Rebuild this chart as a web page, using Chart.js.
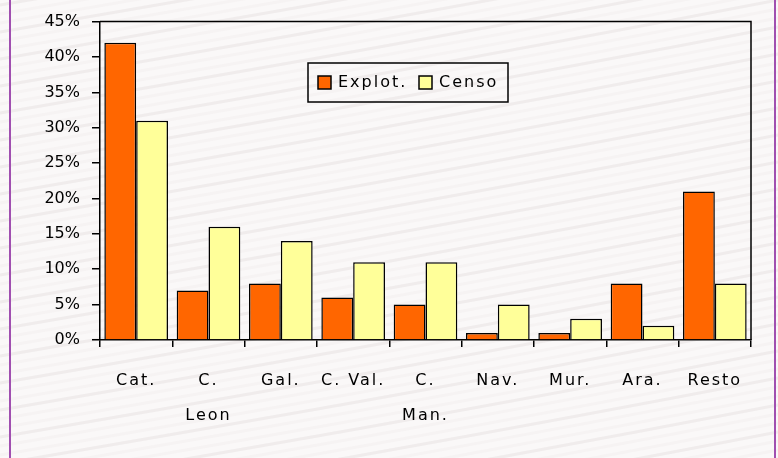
<!DOCTYPE html>
<html>
<head>
<meta charset="utf-8">
<script src="https://cdn.jsdelivr.net/npm/chart.js@4/dist/chart.umd.min.js"></script>
<style>
  html, body { margin: 0; padding: 0; background: #fff; }
  #wrap { width: 778px; height: 458px; }
</style>
</head>
<body>
<div id="wrap"><canvas id="regionChart" width="778" height="458"></canvas></div>
<script>
const regions = [['Cat.'], ['C.', 'Leon'], ['Gal.'], ['C. Val.'], ['C.', 'Man.'], ['Nav.'], ['Mur.'], ['Ara.'], ['Resto']];
const explot = [42, 7, 8, 6, 5, 1, 1, 8, 21];
const censo = [31, 16, 14, 11, 11, 5, 3, 2, 8];
const yTicks = [0, 5, 10, 15, 20, 25, 30, 35, 40, 45];

const FONT = 'DejaVu Sans, Verdana, sans-serif';

// striped paper background + purple frame
const backdrop = {
    id: 'backdrop',
    beforeDraw(chart) {
        const c = chart.ctx;
        const w = chart.width, h = chart.height;
        c.save();
        c.fillStyle = '#faf8f8';
        c.fillRect(0, 0, w, h);
        c.lineWidth = 3;
        for (let i = -40; i < 80; i++) {
            const y0 = i * 9;
            c.strokeStyle = i % 3 === 0 ? 'rgba(200,190,190,0.2)' : 'rgba(215,205,205,0.1)';
            c.beginPath();
            c.moveTo(0, y0 + 140);
            c.bezierCurveTo(w * 0.3, y0 + 100, w * 0.6, y0 + 60, w, y0);
            c.stroke();
        }
        c.strokeStyle = '#a04fb0';
        c.lineWidth = 2;
        c.strokeRect(10, -4, 765, h + 8);
        c.restore();

        // spaced-out category labels, like the original
        const sx = chart.scales.x;
        if (sx && !sx._spaced) {
            const orig = sx.drawLabels;
            sx.drawLabels = function (area) {
                this.ctx.save();
                this.ctx.letterSpacing = '2px';
                orig.call(this, area);
                this.ctx.restore();
            };
            sx._spaced = true;
        }
    },
    afterDraw(chart) {
        const c = chart.ctx;
        const a = chart.chartArea;
        c.save();
        c.strokeStyle = '#000';
        c.lineWidth = 1.5;
        c.beginPath();
        c.moveTo(a.left, a.top);
        c.lineTo(a.right, a.top);
        c.lineTo(a.right, a.bottom);
        c.stroke();

        // legend box
        const bx = 308, by = 63, bw = 200, bh = 39;
        c.strokeRect(bx, by, bw, bh);
        c.font = '16px ' + FONT;
        c.letterSpacing = '2px';
        c.textBaseline = 'middle';
        const items = [{x: 318}, {x: 419}];
        chart.data.datasets.forEach((ds, i) => {
            const x = items[i].x;
            c.fillStyle = ds.backgroundColor;
            c.fillRect(x, by + 13, 13, 13);
            c.strokeRect(x, by + 13, 13, 13);
            c.fillStyle = '#000';
            c.fillText(ds.label, x + 20, by + 20);
        });
        c.restore();
    }
};

new Chart(document.getElementById('regionChart'), {
    type: 'bar',
    data: {
        labels: regions,
        datasets: [{
            label: 'Explot.',
            data: explot,
            backgroundColor: '#ff6600',
            borderColor: '#000',
            borderWidth: 1.5,
            borderSkipped: 'bottom'
        }, {
            label: 'Censo',
            data: censo,
            backgroundColor: '#ffff99',
            borderColor: '#000',
            borderWidth: 1.5,
            borderSkipped: 'bottom'
        }]
    },
    options: {
        responsive: false,
        animation: false,
        categoryPercentage: 0.88,
        barPercentage: 1.0,
        layout: {
            padding: { left: 0, top: 18, right: 27, bottom: 0 }
        },
        plugins: {
            legend: { display: false },
            tooltip: { enabled: false }
        },
        scales: {
            x: {
                offset: true,
                grid: {
                    offset: true,
                    drawOnChartArea: false,
                    color: '#000',
                    lineWidth: 1.5,
                    tickLength: 7
                },
                border: { color: '#000', width: 1.5 },
                ticks: {
                    color: '#000',
                    font: { family: FONT, size: 16, lineHeight: 2.2 },
                    padding: 16,
                    maxRotation: 0,
                    autoSkip: false
                },
                afterFit(scale) { scale.height = 118; }
            },
            y: {
                min: 0,
                max: 45,
                afterBuildTicks(scale) {
                    scale.ticks = yTicks.map(v => ({ value: v }));
                },
                grid: {
                    drawOnChartArea: false,
                    color: '#000',
                    lineWidth: 1.5,
                    tickLength: 8
                },
                border: { color: '#000', width: 1.5 },
                ticks: {
                    color: '#000',
                    font: { family: FONT, size: 16 },
                    padding: 12,
                    callback: v => v + '%'
                },
                afterFit(scale) { scale.width = 100; }
            }
        }
    },
    plugins: [backdrop]
});
</script>
</body>
</html>
